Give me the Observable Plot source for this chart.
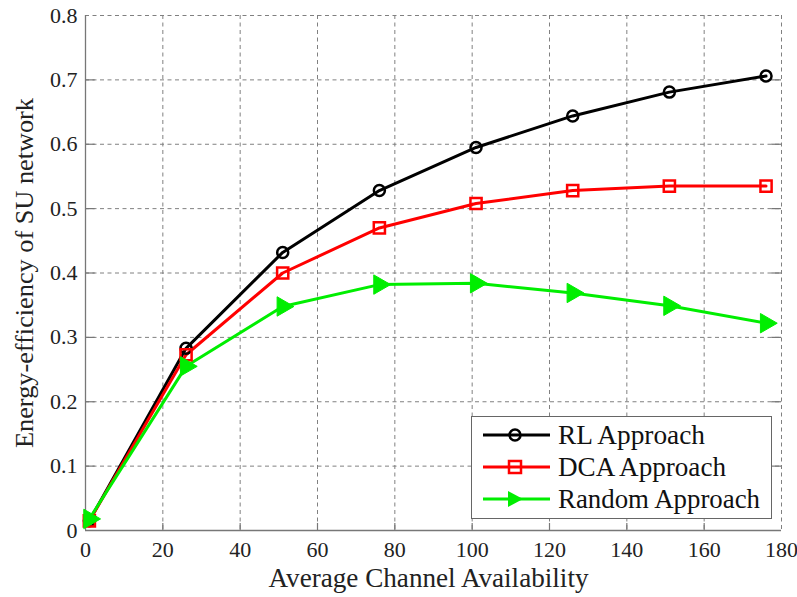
<!DOCTYPE html>
<html>
<head>
<meta charset="utf-8">
<script src="https://cdn.jsdelivr.net/npm/d3@7"></script>
<script src="https://cdn.jsdelivr.net/npm/@observablehq/plot@0.6"></script>
<style>
  html, body { margin: 0; padding: 0; background: #fff; }
  #wrap { position: relative; width: 797px; height: 597px; font-family: "Liberation Serif", "Times New Roman", serif; }
  #legend { position: absolute; left: 471px; top: 416px; }
</style>
</head>
<body>
<div id="wrap"></div>
<script>
const xValues = [1, 26, 51, 76, 101, 126, 151, 176];
const rlValues = [0.015, 0.283, 0.432, 0.528, 0.595, 0.644, 0.681, 0.706];
const dcaValues = [0.015, 0.273, 0.400, 0.470, 0.508, 0.528, 0.535, 0.535];
const randomValues = [0.018, 0.255, 0.348, 0.382, 0.384, 0.369, 0.349, 0.322];
const seriesNames = ["RL Approach", "DCA Approach", "Random Approach"];
const seriesColors = ["#000000", "#ff0000", "#00ee00"];
const xTicks = [0, 20, 40, 60, 80, 100, 120, 140, 160, 180];
const yTicks = [0, 0.1, 0.2, 0.3, 0.4, 0.5, 0.6, 0.7, 0.8];
const xLabel = "Average Channel Availability";
const yLabel = "Energy-efficiency of SU network";

const rows = [];
[rlValues, dcaValues, randomValues].forEach((vals, si) => {
  vals.forEach((v, i) => rows.push({series: seriesNames[si], x: xValues[i], y: v}));
});
const bySeries = name => rows.filter(d => d.series === name);
const gridStyle = {stroke: "#808080", strokeOpacity: 1, strokeDasharray: "4,3.5", strokeWidth: 1};
const FONT = "'Liberation Serif', 'Times New Roman', serif";

const chart = Plot.plot({
  width: 797,
  height: 597,
  marginLeft: 85,
  marginRight: 16,
  marginTop: 15,
  marginBottom: 67,
  style: {fontFamily: FONT, fontSize: "22px", color: "#222", background: "#fff"},
  x: {domain: [0, 180], ticks: xTicks, label: null},
  y: {domain: [0, 0.8], ticks: yTicks, label: null},
  marks: [
    Plot.gridX(xTicks, gridStyle),
    Plot.gridY(yTicks, gridStyle),
    Plot.ruleX([0], {stroke: "#777", strokeWidth: 1.3}),
    Plot.ruleY([0], {stroke: "#777", strokeWidth: 1.3}),
    Plot.ruleX(xTicks.slice(1, -1), {x: d => d, y1: 0, y2: 0.011, stroke: "#777", strokeWidth: 1.2}),
    Plot.ruleY(yTicks.slice(1, -1), {y: d => d, x1: 177.5, x2: 180, stroke: "#777", strokeWidth: 1.2}),
    Plot.ruleY(yTicks.slice(1, -1), {y: d => d, x1: 0, x2: 2.5, stroke: "#777", strokeWidth: 1.2}),
    Plot.axisX({ticks: xTicks, tickSize: 0, tickPadding: 11, fontSize: 22, tickFormat: d => String(d), label: null}),
    Plot.axisY({ticks: yTicks, tickSize: 0, tickPadding: 8, fontSize: 22, tickFormat: d => d === 0 ? "0" : d3.format(".1f")(d), label: null}),
    Plot.text([xLabel], {text: d => d, frameAnchor: "bottom", lineAnchor: "middle", dx: -5, dy: 48, fontSize: 26.5, fill: "#222", className: "xlab"}),
    Plot.text([yLabel], {text: d => d, frameAnchor: "left", textAnchor: "middle", lineAnchor: "middle", dx: -61, rotate: -90, fontSize: 26, fill: "#222", className: "ylab"}),
    Plot.line(bySeries("RL Approach"), {x: "x", y: "y", stroke: seriesColors[0], strokeWidth: 3}),
    Plot.line(bySeries("DCA Approach"), {x: "x", y: "y", stroke: seriesColors[1], strokeWidth: 3}),
    Plot.line(bySeries("Random Approach"), {x: "x", y: "y", stroke: seriesColors[2], strokeWidth: 3}),
    Plot.dot(bySeries("RL Approach"), {x: "x", y: "y", symbol: "circle", r: 5.5, stroke: seriesColors[0], strokeWidth: 2.5, fill: "none"}),
    Plot.dot(bySeries("DCA Approach"), {x: "x", y: "y", symbol: "square", r: 6.3, stroke: seriesColors[1], strokeWidth: 2.5, fill: "none"}),
    Plot.dot(bySeries("Random Approach"), {x: "x", y: "y", symbol: "triangle", r: 7.2, rotate: 90, stroke: seriesColors[2], strokeWidth: 1, fill: seriesColors[2]})
  ]
});
const wrap = document.getElementById("wrap");
wrap.appendChild(chart);

// fit label lengths to the reference
const fit = (cls, len) => {
  const t = chart.querySelector(`.${cls} text`);
  if (t) { t.setAttribute("textLength", len); t.setAttribute("lengthAdjust", "spacingAndGlyphs"); }
};
fit("xlab", 320);
fit("ylab", 350);

// legend (SVG overlay)
const W = 301, H = 103;
const markerSvg = [
  cy => `<circle cx="44" cy="${cy}" r="5.5" fill="none" stroke="#000" stroke-width="2.5"/>`,
  cy => `<rect x="38" y="${cy - 6}" width="12" height="12" fill="none" stroke="#f00" stroke-width="2.5"/>`,
  cy => `<path d="M37,${cy - 8} L52,${cy} L37,${cy + 8} Z" fill="#00ee00"/>`
];
const lens = [147, 168, 202];
let inner = `<rect x="0.5" y="0.5" width="${W - 1}" height="${H - 1}" fill="#fff" stroke="#666" stroke-width="1"/>`;
seriesNames.forEach((name, i) => {
  const cy = 19 + i * 32;
  inner += `<line x1="12" y1="${cy}" x2="79" y2="${cy}" stroke="${seriesColors[i]}" stroke-width="3"/>` + markerSvg[i](cy);
  inner += `<text x="87" y="${cy + 9}" font-size="26.5" fill="#111" font-family="${FONT.replace(/'/g, "")}" textLength="${lens[i]}" lengthAdjust="spacingAndGlyphs">${name}</text>`;
});
const legend = document.createElement("div");
legend.id = "legend";
legend.innerHTML = `<svg width="${W}" height="${H}">${inner}</svg>`;
wrap.appendChild(legend);
</script>
</body>
</html>
